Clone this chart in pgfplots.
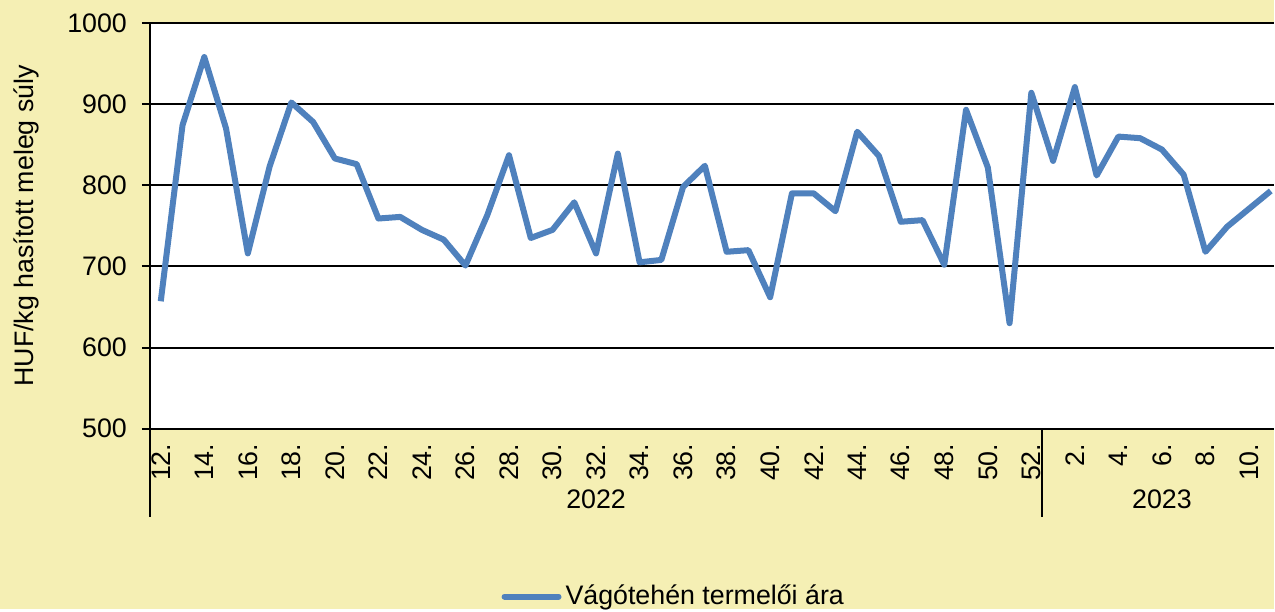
\documentclass[border=0pt]{standalone}
\usepackage{fontspec}
\setmainfont{Liberation Sans}
\usepackage{pgfplots}
\pgfplotsset{compat=1.18}
\definecolor{bgyellow}{RGB}{245,239,180}
\definecolor{lineblue}{RGB}{79,129,189}

\begin{document}
\begin{tikzpicture}[font=\fontsize{13.4}{16}\selectfont]
\fill[bgyellow] (0,0) rectangle (637.5pt,304.5pt);
\begin{axis}[
  at={(75pt,90pt)}, anchor=south west,
  scale only axis, width=562.5pt, height=203pt,
  xmin=-0.5, xmax=51.15, ymin=500, ymax=1000,
  clip=false,
  axis lines=left,
  axis background/.style={fill=white},
  axis line style={black, line width=1pt, -},
  ytick={500,600,...,1000},
  ymajorgrids, y grid style={black, line width=1pt},
  tick align=outside,
  ytick style={black, line width=1pt}, major tick length=4pt,
  y tick label style={xshift=-4pt},
  xtick={0,2,...,50},
  xticklabels={12.,14.,16.,18.,20.,22.,24.,26.,28.,30.,32.,34.,36.,38.,40.,42.,44.,46.,48.,50.,52.,2.,4.,6.,8.,10.},
  xtick style={draw=none},
  x tick label style={rotate=90, anchor=east},
  /pgf/number format/assume math mode=true,
  /pgf/number format/1000 sep={},
  ylabel={HUF/kg hasított meleg súly},
  ylabel style={at={(axis description cs:-0.110,0.5)}, anchor=center},
  legend style={at={(axis description cs:0.3125,-0.414)}, anchor=west,
    draw=none, fill=none, inner sep=0pt},
  legend image code/.code={\draw[#1, line cap=round] (0pt,0pt) -- (27pt,0pt);},
]
% 2022 wk12-52, 2023 wk1-11
\addplot[lineblue, line width=3pt, line join=round] table {
0 657
1 874
2 958
3 870
4 716
5 823
6 902
7 878
8 833
9 826
10 759
11 761
12 745
13 733
14 701
15 763
16 837
17 735
18 745
19 779
20 716
21 839
22 705
23 708
24 798
25 824
26 718
27 720
28 662
29 790
30 790
31 768
32 866
33 836
34 755
35 757
36 702
37 893
38 822
39 630
40 914
41 830
42 921
43 812
44 860
45 858
46 844
47 813
48 718
49 749
50 771
51 793
};
\addlegendentry{Vágótehén termelői ára}
\draw[black, line width=1pt] (axis cs:-0.5,500) -- ([yshift=-44pt]axis cs:-0.5,500);
\draw[black, line width=1pt] (axis cs:40.5,500) -- ([yshift=-44pt]axis cs:40.5,500);
\node at ([yshift=-35.5pt]axis cs:20,500) {2022};
\node at ([yshift=-35.5pt]axis cs:46,500) {2023};
\end{axis}
\end{tikzpicture}
\end{document}
